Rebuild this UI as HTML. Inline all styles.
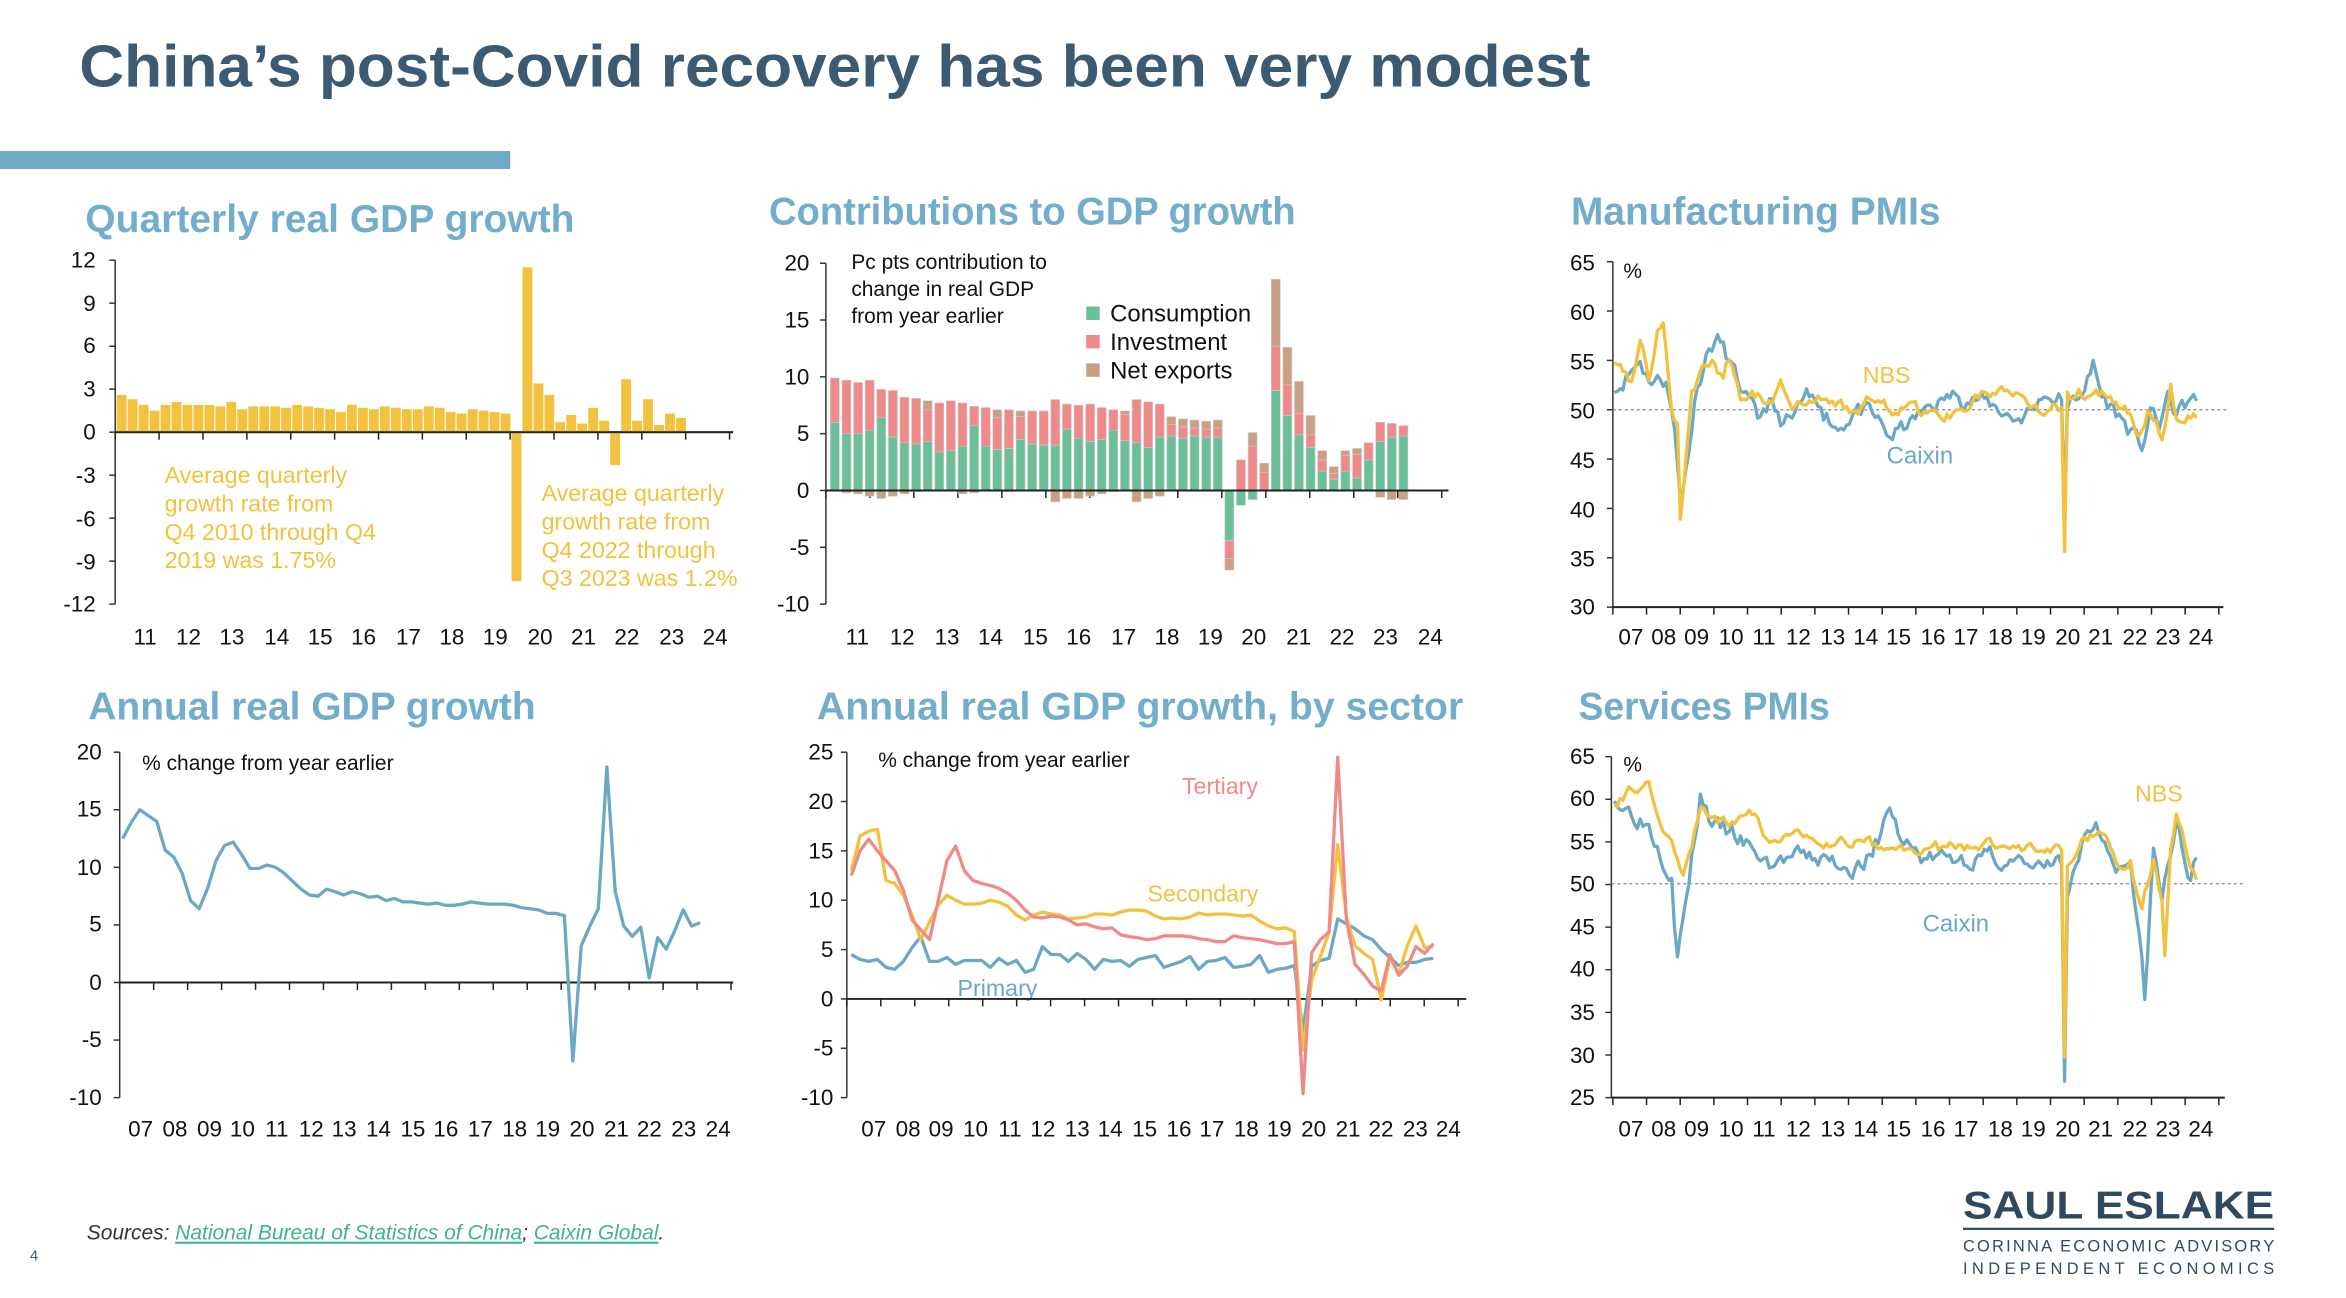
<!DOCTYPE html>
<html><head><meta charset="utf-8"><style>
html,body{margin:0;padding:0;background:#fff;overflow:hidden}
svg{display:block}
text{font-family:"Liberation Sans",sans-serif}
.t{font-weight:bold;fill:#72aecb;font-size:26px}
.ax{font-size:15px;fill:#111}
.sm{font-size:14px;fill:#111}
.y{fill:#f2c23e;font-size:15.5px}
</style></head><body>
<svg id="s" xmlns="http://www.w3.org/2000/svg" width="2346" height="1298" viewBox="0 0 1568 868" preserveAspectRatio="none">
<rect width="1568" height="868" fill="#fff"/>
<text x="53" y="58" font-size="40" font-weight="bold" fill="#3d5a73" textLength="1010" lengthAdjust="spacingAndGlyphs">China’s post-Covid recovery has been very modest</text>
<rect x="0" y="101" width="341" height="12" fill="#6ea9c5"/>

<text class="t" x="57" y="155" textLength="327" lengthAdjust="spacingAndGlyphs">Quarterly real GDP growth</text>
<text class="t" x="514" y="150" textLength="352" lengthAdjust="spacingAndGlyphs">Contributions to GDP growth</text>
<text class="t" x="1050" y="150" textLength="247" lengthAdjust="spacingAndGlyphs">Manufacturing PMIs</text>
<text class="t" x="59" y="481" textLength="299" lengthAdjust="spacingAndGlyphs">Annual real GDP growth</text>
<text class="t" x="546" y="481" textLength="432" lengthAdjust="spacingAndGlyphs">Annual real GDP growth, by sector</text>
<text class="t" x="1055" y="481" textLength="168" lengthAdjust="spacingAndGlyphs">Services PMIs</text>

<!-- chart1 labels -->
<g class="ax" text-anchor="end">
<text x="64" y="179">12</text><text x="64" y="208">9</text><text x="64" y="236">6</text><text x="64" y="265">3</text><text x="64" y="294">0</text><text x="64" y="323">-3</text><text x="64" y="352">-6</text><text x="64" y="381">-9</text><text x="64" y="409">-12</text>
</g>
<g class="ax" text-anchor="middle">
<text x="97" y="431">11</text><text x="126" y="431">12</text><text x="155" y="431">13</text><text x="185" y="431">14</text><text x="214" y="431">15</text><text x="243" y="431">16</text><text x="273" y="431">17</text><text x="302" y="431">18</text><text x="331" y="431">19</text><text x="361" y="431">20</text><text x="390" y="431">21</text><text x="419" y="431">22</text><text x="449" y="431">23</text><text x="478" y="431">24</text>
</g>
<g class="y">
<text x="110" y="323">Average quarterly</text><text x="110" y="342">growth rate from</text><text x="110" y="361">Q4 2010 through Q4</text><text x="110" y="380">2019 was 1.75%</text>
<text x="362" y="335">Average quarterly</text><text x="362" y="354">growth rate from</text><text x="362" y="373">Q4 2022 through</text><text x="362" y="392">Q3 2023 was 1.2%</text>
</g>

<!-- chart2 labels -->
<g class="ax" text-anchor="end">
<text x="541" y="181">20</text><text x="541" y="219">15</text><text x="541" y="257">10</text><text x="541" y="295">5</text><text x="541" y="333">0</text><text x="541" y="371">-5</text><text x="541" y="409">-10</text>
</g>
<g class="ax" text-anchor="middle">
<text x="573" y="431">11</text><text x="603" y="431">12</text><text x="633" y="431">13</text><text x="662" y="431">14</text><text x="692" y="431">15</text><text x="721" y="431">16</text><text x="751" y="431">17</text><text x="780" y="431">18</text><text x="809" y="431">19</text><text x="838" y="431">20</text><text x="868" y="431">21</text><text x="897" y="431">22</text><text x="926" y="431">23</text><text x="956" y="431">24</text>
</g>
<g class="sm"><text x="569" y="180">Pc pts contribution to</text><text x="569" y="198">change in real GDP</text><text x="569" y="216">from year earlier</text></g>
<rect x="726" y="205" width="9" height="9" fill="#6bbf99"/><rect x="726" y="224" width="9" height="9" fill="#ef8a8a"/><rect x="726" y="243" width="9" height="9" fill="#c9a084"/>
<g font-size="16" fill="#111"><text x="742" y="215">Consumption</text><text x="742" y="234">Investment</text><text x="742" y="253">Net exports</text></g>

<!-- chart3 labels -->
<g class="ax" text-anchor="end">
<text x="1066" y="181">65</text><text x="1066" y="214">60</text><text x="1066" y="247">55</text><text x="1066" y="280">50</text><text x="1066" y="313">45</text><text x="1066" y="346">40</text><text x="1066" y="379">35</text><text x="1066" y="411">30</text>
</g>
<g class="ax" text-anchor="middle" id="pmx1">
<text x="1090" y="431">07</text><text x="1112" y="431">08</text><text x="1134" y="431">09</text><text x="1157" y="431">10</text><text x="1179" y="431">11</text><text x="1202" y="431">12</text><text x="1225" y="431">13</text><text x="1247" y="431">14</text><text x="1269" y="431">15</text><text x="1292" y="431">16</text><text x="1314" y="431">17</text><text x="1337" y="431">18</text><text x="1359" y="431">19</text><text x="1382" y="431">20</text><text x="1404" y="431">21</text><text x="1427" y="431">22</text><text x="1449" y="431">23</text><text x="1471" y="431">24</text>
</g>
<text class="sm" x="1085" y="186">%</text>
<text x="1245" y="256" font-size="15.5" fill="#f2c23e">NBS</text>
<text x="1261" y="310" font-size="16" fill="#6aa8c6">Caixin</text>

<!-- chart4 labels -->
<g class="ax" text-anchor="end">
<text x="68" y="508">20</text><text x="68" y="546">15</text><text x="68" y="585">10</text><text x="68" y="623">5</text><text x="68" y="662">0</text><text x="68" y="700">-5</text><text x="68" y="739">-10</text>
</g>
<g class="ax" text-anchor="middle">
<text x="94" y="760">07</text><text x="117" y="760">08</text><text x="140" y="760">09</text><text x="162" y="760">10</text><text x="185" y="760">11</text><text x="208" y="760">12</text><text x="230" y="760">13</text><text x="253" y="760">14</text><text x="276" y="760">15</text><text x="298" y="760">16</text><text x="321" y="760">17</text><text x="344" y="760">18</text><text x="366" y="760">19</text><text x="389" y="760">20</text><text x="412" y="760">21</text><text x="434" y="760">22</text><text x="457" y="760">23</text><text x="480" y="760">24</text>
</g>
<text class="sm" x="95" y="515">% change from year earlier</text>

<!-- chart5 labels -->
<g class="ax" text-anchor="end">
<text x="557" y="508">25</text><text x="557" y="541">20</text><text x="557" y="574">15</text><text x="557" y="607">10</text><text x="557" y="640">5</text><text x="557" y="673">0</text><text x="557" y="706">-5</text><text x="557" y="739">-10</text>
</g>
<g class="ax" text-anchor="middle">
<text x="584" y="760">07</text><text x="607" y="760">08</text><text x="629" y="760">09</text><text x="652" y="760">10</text><text x="675" y="760">11</text><text x="697" y="760">12</text><text x="720" y="760">13</text><text x="742" y="760">14</text><text x="765" y="760">15</text><text x="788" y="760">16</text><text x="810" y="760">17</text><text x="833" y="760">18</text><text x="855" y="760">19</text><text x="878" y="760">20</text><text x="901" y="760">21</text><text x="923" y="760">22</text><text x="946" y="760">23</text><text x="968" y="760">24</text>
</g>
<text class="sm" x="587" y="513">% change from year earlier</text>
<text x="790" y="531" font-size="15.5" fill="#ef8a8a">Tertiary</text>
<text x="767" y="603" font-size="15.5" fill="#f2c23e">Secondary</text>
<text x="640" y="666" font-size="15.5" fill="#6aa8c6">Primary</text>

<!-- chart6 labels -->
<g class="ax" text-anchor="end">
<text x="1066" y="511">65</text><text x="1066" y="539">60</text><text x="1066" y="568">55</text><text x="1066" y="596">50</text><text x="1066" y="625">45</text><text x="1066" y="653">40</text><text x="1066" y="682">35</text><text x="1066" y="711">30</text><text x="1066" y="739">25</text>
</g>
<g class="ax" text-anchor="middle">
<text x="1090" y="760">07</text><text x="1112" y="760">08</text><text x="1134" y="760">09</text><text x="1157" y="760">10</text><text x="1179" y="760">11</text><text x="1202" y="760">12</text><text x="1225" y="760">13</text><text x="1247" y="760">14</text><text x="1269" y="760">15</text><text x="1292" y="760">16</text><text x="1314" y="760">17</text><text x="1337" y="760">18</text><text x="1359" y="760">19</text><text x="1382" y="760">20</text><text x="1404" y="760">21</text><text x="1427" y="760">22</text><text x="1449" y="760">23</text><text x="1471" y="760">24</text>
</g>
<text class="sm" x="1085" y="516">%</text>
<text x="1427" y="536" font-size="15.5" fill="#f2c23e">NBS</text>
<text x="1285" y="623" font-size="16" fill="#6aa8c6">Caixin</text>

<!-- footer -->
<text x="58" y="829" font-size="14" font-style="italic" fill="#333">Sources: <tspan fill="#3eb489" text-decoration="underline">National Bureau of Statistics of China</tspan>; <tspan fill="#3eb489" text-decoration="underline">Caixin Global</tspan>.</text>
<text x="20" y="843" font-size="10" fill="#3d5a73">4</text>
<text x="1312" y="815" font-size="26" font-weight="bold" fill="#2f4a60" textLength="208" lengthAdjust="spacingAndGlyphs">SAUL ESLAKE</text>
<rect x="1312" y="821" width="208" height="1.5" fill="#2f4a60"/>
<text x="1312" y="837" font-size="11" fill="#2f4a60" textLength="208" lengthAdjust="spacing">CORINNA ECONOMIC ADVISORY</text>
<text x="1312" y="852" font-size="11" fill="#2f4a60" textLength="208" lengthAdjust="spacing">INDEPENDENT ECONOMICS</text>
<g id="dyn"></g>
</svg>
<script>
var NS="http://www.w3.org/2000/svg",G=document.getElementById("dyn");
function el(t,a){var e=document.createElementNS(NS,t);for(var k in a)e.setAttribute(k,a[k]);G.appendChild(e);return e}
function line(x1,y1,x2,y2,c,w,d){var o={x1:x1,y1:y1,x2:x2,y2:y2,stroke:c||"#222","stroke-width":w||1};if(d)o["stroke-dasharray"]=d;el("line",o)}
function axes(x,yt,yb,yz,xe,ny,xt0,xts,nx){line(x,yt,x,yb,"#333",1);line(x,yz,xe,yz,"#222",1.3);
 for(var i=0;i<ny;i++){var y=yt+(yb-yt)*i/(ny-1);line(x-4,y,x,y,"#333",1)}
 for(var j=0;j<nx;j++){var xx=xt0+xts*j;line(xx,yz,xx,yz+5,"#222",1)}}
function poly(xs,ys,c,w){var d="";for(var i=0;i<xs.length;i++)d+=(i?"L":"M")+xs[i].toFixed(1)+","+ys[i].toFixed(1);el("path",{d:d,fill:"none",stroke:c,"stroke-width":w,"stroke-linejoin":"round"})}
var seed=7;function rnd(){seed=(seed*16807)%2147483647;return seed/2147483647-0.5}
function interp(an,n,amp){var v=[],k=0,ar=0;for(var i=0;i<n;i++){while(k<an.length-2&&an[k+1][0]<=i)k++;var a=an[k],b=an[k+1];var t=(i-a[0])/(b[0]-a[0]);t=Math.max(0,Math.min(1,t));var base=a[1]+(b[1]-a[1])*t;ar=0.5*ar+rnd()*amp;var isA=an.some(function(p){return p[0]==i});v.push(isA?base+ar*0.3:base+ar)}return v}
// chart1
axes(77,174,404,289,490,9,77,29.33,15);
var q=[2.6,2.3,1.9,1.5,1.9,2.1,1.9,1.9,1.9,1.8,2.1,1.6,1.8,1.8,1.8,1.7,1.9,1.8,1.7,1.6,1.4,1.9,1.7,1.6,1.8,1.7,1.6,1.6,1.8,1.7,1.4,1.3,1.6,1.5,1.4,1.3,-10.4,11.5,3.4,2.6,0.7,1.2,0.6,1.7,0.8,-2.3,3.7,0.8,2.3,0.5,1.3,1.0];
q.forEach(function(v,i){var x=78+i*7.33,y0=289,y=289-v*9.58;el("rect",{x:x,y:Math.min(y,y0),width:6.6,height:Math.abs(y-y0),fill:"#f2c23e"})});
line(77,289,490,289,"#222",1.3);
// chart2
axes(552,176,404,328,968,7,552,29.4,15);
var tot=[9.9,9.7,9.5,9.7,8.9,8.8,8.2,8.1,7.9,7.7,7.9,7.7,7.4,7.3,7.1,7.1,7.0,7.0,7.0,8.0,7.6,7.5,7.6,7.3,7.1,7.0,8.0,7.8,7.6,6.5,6.3,6.2,6.1,6.2];
var cons=[6.0,5.0,5.0,5.3,6.4,4.7,4.2,4.1,4.3,3.4,3.5,3.9,5.7,3.9,3.6,3.7,4.5,4.1,4.0,4.0,5.4,4.6,4.3,4.5,5.3,4.4,4.2,3.8,4.7,4.8,4.6,4.8,4.7,4.7];
var nex=[0,-0.2,-0.3,-0.5,-0.7,-0.5,-0.3,-0.1,0.8,0,0,-0.3,-0.2,0,0.7,-0.1,0.5,0,0,-1.0,-0.7,-0.7,-0.5,-0.3,-0.1,0.3,-1.0,-0.7,-0.5,0.7,0.7,0.7,0.7,0.7];
var bars=[];for(var i=0;i<34;i++){var n=nex[i],inv=tot[i]-cons[i]-(n>0?n:0);bars.push([cons[i],inv,n])}
bars.push([-4.4,-1.6,-1.0],[-1.3,2.7,0],[-0.8,3.9,1.2],[0,1.6,0.8]);
bars.push([8.8,3.9,5.9],[6.6,2.7,3.3],[4.9,1.9,2.8],[3.8,1.1,1.7],[1.7,1.0,0.8],[1.0,0.5,0.6],[1.7,1.4,0.4],[1.1,2.1,0.5],[2.7,1.5,0],[4.3,1.7,-0.6],[4.7,1.2,-0.8],[4.8,0.9,-0.8]);
var sp=(935-555)/(bars.length-1);
bars.forEach(function(b,i){var x=555+i*sp,up=328,dn=328,cols=["#6bbf99","#ef8a8a","#c9a084"];
 for(var k=0;k<3;k++){var h=b[k]*7.6;if(h>=0){up-=h;el("rect",{x:x,y:up,width:6,height:h,fill:cols[k],stroke:"#ccc","stroke-width":0.4})}else{el("rect",{x:x,y:dn,width:6,height:-h,fill:cols[k],stroke:"#ccc","stroke-width":0.4});dn-=h}}});
line(552,328,968,328,"#222",1.3);
// chart3
axes(1078,175,406,406,1486,8,1078,22.5,19);
line(1078,274,1490,274,"#888",0.8,"2,2");
function pmi(an,amp,y50,per,c,s){seed=s;var v=interp(an,204,amp),xs=[],ys=[];for(var i=0;i<204;i++){xs.push(1079+i*(1468-1079)/203);ys.push(y50-(v[i]-50)*per)}poly(xs,ys,c,2.2)}
pmi([[0,52],[6,54],[9,55],[12,53],[18,53],[21,48],[23,40.9],[25,44],[28,51],[32,55.5],[36,57.4],[40,55],[44,52],[50,49],[54,51],[58,48.5],[62,49],[66,51],[72,50.5],[78,48],[84,50],[90,49.5],[96,47.2],[102,48.3],[108,50],[114,51],[120,51.5],[126,51],[132,50.5],[140,49],[146,50],[150,51.5],[156,51],[157,40.3],[158,50],[161,51],[166,53.5],[167,54.9],[170,51.3],[176,49.5],[184,46],[187,50],[190,48.1],[193,51.6],[196,49.5],[200,50.8],[203,50.8]],1.6,274,6.6,"#6aa8c6",11);
pmi([[0,55],[6,53],[9,57],[12,53],[15,58],[17,59],[20,50],[22,48.5],[23,38.8],[25,45],[27,52],[30,54],[34,55],[38,53],[40,55],[44,51],[48,52],[55,50.5],[58,53],[62,50],[66,50.5],[72,51],[84,50],[90,51],[96,50],[102,50.5],[108,49.8],[114,49.2],[120,50],[126,51.5],[132,51.6],[138,51.5],[144,50.5],[150,49.5],[156,50.2],[157,35.7],[158,52],[166,51.6],[170,51.9],[176,50.1],[180,49.5],[183,47.4],[186,50],[189,49],[191,47],[194,52.6],[196,49],[200,49.5],[203,49]],1.2,274,6.6,"#f2c23e",5);
// chart4
axes(80,503,734,657,490,7,80,22.7,19);
var a=[12.5,13.9,15,14.5,14,11.5,10.9,9.5,7.1,6.4,8.2,10.6,11.9,12.2,11.1,9.9,9.9,10.2,10.0,9.5,8.8,8.1,7.6,7.5,8.1,7.9,7.6,7.9,7.7,7.4,7.5,7.1,7.3,7.0,7.0,6.9,6.8,6.9,6.7,6.7,6.8,7.0,6.9,6.8,6.8,6.8,6.7,6.5,6.4,6.3,6.0,6.0,5.8,-6.8,3.2,4.9,6.4,18.7,7.9,4.9,4.0,4.8,0.4,3.9,2.9,4.5,6.3,4.9,5.2];
(function(){var xs=[],ys=[],st=(468-82)/(a.length-1);a.forEach(function(v,i){xs.push(82+i*st);ys.push(657-v*7.7)});poly(xs,ys,"#6aa8c6",2.2)})();
// chart5
axes(566,503,734,668,980,8,566,22.7,19);
function sec(arr,c){var xs=[],ys=[],st=(958-569)/(arr.length-1);arr.forEach(function(v,i){xs.push(569+i*st);ys.push(668-v*6.6)});poly(xs,ys,c,2.2)}
sec([4.5,4,3.8,4,3.2,3,3.8,5.2,6.3,3.8,3.8,4.2,3.5,3.9,3.9,3.9,3.2,4.1,3.5,3.9,2.7,3,5.3,4.5,4.5,3.8,4.6,4,3,4,3.8,3.9,3.3,4,4.2,4.4,3.2,3.5,3.8,4.3,3,3.8,3.9,4.2,3.2,3.3,3.5,4.4,2.7,3,3.1,3.4,-3.2,3.3,3.9,4.1,8.1,7.6,7.1,6.4,6,5,4.2,3.4,3.7,3.7,4,4.1],"#6aa8c6");
sec([13,16.5,17,17.2,12,11.7,10.5,8.5,6,7.8,9.5,10.5,10,9.6,9.6,9.7,10,9.8,9.4,8.5,8,8.5,8.8,8.6,8.5,8.1,8.2,8.3,8.6,8.6,8.5,8.8,9,9,8.9,8.4,8.1,8.2,8.1,8.3,8.7,8.5,8.6,8.6,8.5,8.4,8.5,7.9,7.4,7.1,7.2,6.8,-5.2,1.9,4.3,6.7,15.6,8.3,5.4,4.6,4,-0.1,4.2,2.5,5.4,7.4,5.2,5.3],"#f2c23e");
sec([12.5,15,16.2,15,14,13,11,8,7,6,10,14,15.5,13,12,11.7,11.5,11.2,10.7,10,9,8.3,8.2,8.4,8.3,8,7.5,7.6,7.3,7.1,7.2,6.5,6.3,6.2,6,6.1,6.4,6.4,6.4,6.3,6.1,6,5.8,5.8,6.4,6.2,6.1,6,5.8,5.6,5.6,5.8,-9.6,4.7,6,6.8,24.5,8,3.5,2.5,1.3,0.8,4.5,2.4,3.3,5.3,4.6,5.6],"#ef8a8a");
// chart6
axes(1077,506,734,734,1487,9,1078,22.5,19);
line(1077,591,1500,591,"#888",0.8,"2,2");
pmi([[0,60],[12,57],[20,51],[22,41.5],[26,50],[30,60.5],[34,57],[40,56],[48,54],[54,52],[60,53],[70,53],[84,52],[90,53],[96,59],[100,55],[108,53],[120,53],[132,53],[144,52],[156,52],[157,26.5],[158,48],[164,56],[168,57],[172,54],[176,52],[180,53],[184,41],[185,36.2],[188,54],[191,48],[193,52],[196,57],[200,51],[203,52.8]],2.0,591,5.7,"#6aa8c6",3);
pmi([[0,59.5],[6,61],[12,62],[15,58],[20,55],[22,53],[24,51],[27,54],[30,59],[36,57],[42,57],[48,58],[54,55],[60,56],[66,55.5],[72,54.5],[84,55],[96,54],[108,54],[120,54.5],[132,54.5],[144,54.5],[156,54],[157,29.6],[158,52],[164,55.5],[170,56],[176,52],[180,53],[184,47],[188,53],[191,48],[192,41.6],[194,54],[196,58.2],[200,53],[203,50.4]],1.2,591,5.7,"#f2c23e",9);
</script>
</body></html>
